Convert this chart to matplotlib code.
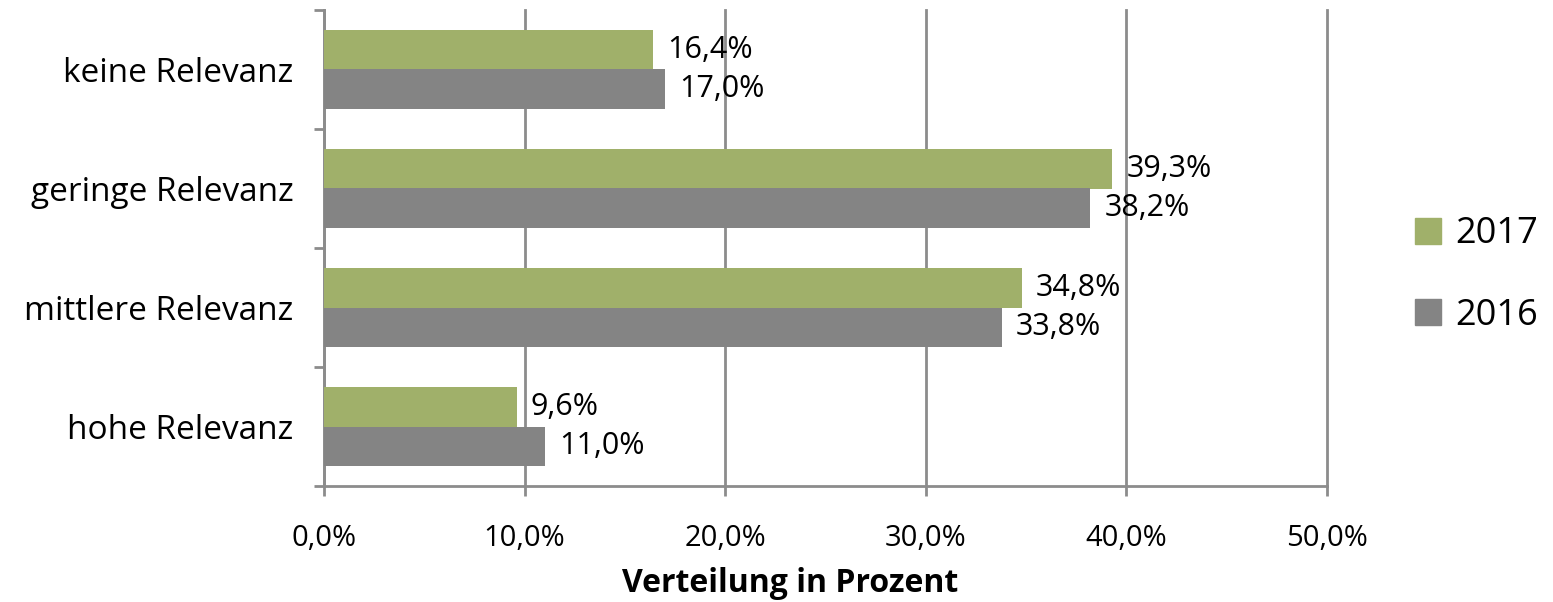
import matplotlib.pyplot as plt
from matplotlib.patches import Patch

# --------------------------------------------------------
# DATA
# --------------------------------------------------------
categories = ["keine Relevanz", "geringe Relevanz", "mittlere Relevanz", "hohe Relevanz"]
values_2017 = [16.4, 39.3, 34.8, 9.6]
values_2016 = [17.0, 38.2, 33.8, 11.0]
xticks = [0, 10, 20, 30, 40, 50]

GREEN = "#A0B06A"
GREY = "#848484"
LINE = "#8C8C8C"

plt.rcParams["font.family"] = ["Open Sans", "DejaVu Sans"]

# --------------------------------------------------------
# PLOT
# --------------------------------------------------------
fig = plt.figure(figsize=(15.53, 6.02), dpi=100)
ax = fig.add_axes([324 / 1553, 116 / 602, 1003 / 1553, 476 / 602])

n = len(categories)
pos = [n - 1 - i for i in range(n)]  # keine Relevanz on top
h = 0.33

ax.barh([p + h / 2 for p in pos], values_2017, height=h, color=GREEN, zorder=3)
ax.barh([p - h / 2 for p in pos], values_2016, height=h, color=GREY, zorder=3)

for p, v in zip(pos, values_2017):
    ax.text(v + 0.7, p + h / 2, f"{v:.1f}%".replace(".", ","), va="center",
            ha="left", fontsize=22, zorder=4)
for p, v in zip(pos, values_2016):
    ax.text(v + 0.7, p - h / 2, f"{v:.1f}%".replace(".", ","), va="center",
            ha="left", fontsize=22, zorder=4)

ax.set_xlim(0, 50)
ax.set_ylim(-0.5, n - 0.5)
ax.set_xticks(xticks)
ax.set_xticklabels([f"{t:.1f}%".replace(".", ",") for t in xticks], fontsize=21)
ax.set_yticks(pos)
ax.set_yticklabels(categories, fontsize=24)
ax.set_yticks([b - 0.5 for b in range(n + 1)], minor=True)

ax.grid(axis="x", color=LINE, linewidth=2, zorder=0)
for gl in ax.get_xgridlines():
    gl.set_clip_on(False)
ax.tick_params(axis="y", which="major", length=0, pad=22)
ax.tick_params(axis="y", which="minor", length=7, width=2, color=LINE)
ax.tick_params(axis="x", length=7, width=2, color=LINE, pad=20)

for s in ["top", "right"]:
    ax.spines[s].set_visible(False)
for s in ["left", "bottom"]:
    ax.spines[s].set_color(LINE)
    ax.spines[s].set_linewidth(2)

fig.text(790 / 1553, 18 / 602, "Verteilung in Prozent", ha="center", va="center",
         fontsize=23, fontweight="bold")

handles = [Patch(color=GREEN, label="2017"), Patch(color=GREY, label="2016")]
fig.legend(handles=handles, loc="center left", bbox_to_anchor=(1415 / 1553, 327 / 602),
           frameon=False, fontsize=26, handlelength=0.72, handleheight=0.72,
           handletextpad=0.4, labelspacing=1.25, borderpad=0, borderaxespad=0)

fig.savefig("out.png", dpi=100)
